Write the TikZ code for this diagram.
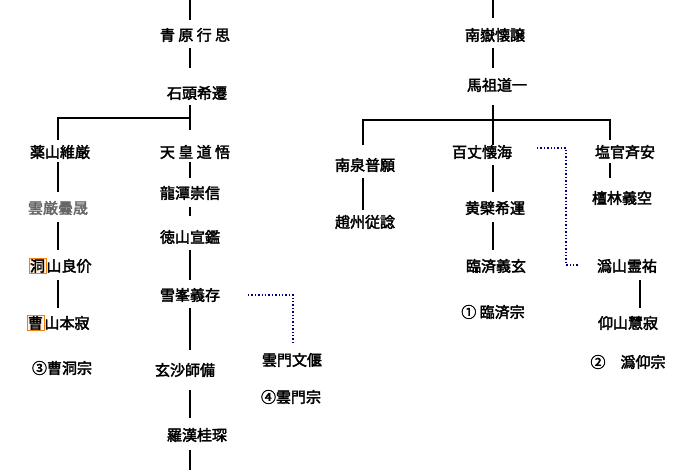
\documentclass[tikz,border=0pt]{standalone}
\usepackage{fontspec}
\setmainfont{Noto Sans CJK JP}[FakeBold=2.5]
\usetikzlibrary{calc, positioning}
\newcommand{\hlbox}[1]{{\setlength\fboxsep{0.5pt}\setlength\fboxrule{1pt}\fcolorbox{orange!80!brown}{orange!12}{#1}}}
\tikzset{
  monk/.style={font=\fontsize{15}{15}\selectfont, inner sep=1pt},
  line/.style={line width=1.8pt},
  link/.style={draw=blue!50!black, dotted, line width=1.4pt}
}
\begin{document}
\begin{tikzpicture}[x=1pt, y=-1pt]
	\useasboundingbox (0,0) rectangle (700,470);
	%Left lineage
	\node[monk] (qy) at (195,35) {青 原 行 思};
	\node[monk] (st) at (197,93) {石頭希遷};
	\node[monk] (ys) at (60,152) {薬山維厳};
	\node[monk] (th) at (195,152) {天 皇 道 悟};
	\node[monk, text=black!60] (yy) at (58,208) {雲厳曇晟};
	\node[monk] (dz) at (60,266) {\hlbox{洞}山良价};
	\node[monk] (cz) at (58,323) {\hlbox{曹}山本寂};
	\node[monk] (cd) at (62,368) {③曹洞宗};
	\node[monk] (lt) at (190,193) {龍潭崇信};
	\node[monk] (ds) at (190,237) {徳山宣鑑};
	\node[monk] (xf) at (190,295) {雪峯義存};
	\node[monk] (xs) at (185,370) {玄沙師備};
	\node[monk] (lh) at (197,435) {羅漢桂琛};
	\node[monk] (ym) at (292,360) {雲門文偃};
	\node[monk] (ymz) at (291,397) {④雲門宗};
	%Right lineage
	\node[monk] (ny) at (495,35) {南嶽懐譲};
	\node[monk] (mz) at (497,85) {馬祖道一};
	\node[monk] (nq) at (365,165) {南泉普願};
	\node[monk] (zz) at (365,222) {趙州従諗};
	\node[monk] (bz) at (482,152) {百丈懐海};
	\node[monk] (hb) at (495,208) {黄檗希運};
	\node[monk] (lj) at (496,266) {臨済義玄};
	\node[monk] (ljz) at (493,312) {①\ 臨済宗};
	\node[monk] (yg) at (625,152) {塩官斉安};
	\node[monk] (tl) at (622,198) {檀林義空};
	\node[monk] (gs) at (627,266) {潙山霊祐};
	\node[monk] (ys2) at (628,323) {仰山慧寂};
	\node[monk] (gyz) at (628,362) {②\quad 潙仰宗};
	\coordinate (ltop) at (190,0);
	\coordinate (lbot) at (190,470);
	\coordinate (rtop) at (493,0);

	%Left connectors
	\draw[line] (ltop) -- (190,20);
	\draw[line] (190,48) -- (190,68);
	\draw[line] (190,105) -- (190,130);
	\draw[line] (58,140) -- (58,118) -- (190,118);
	\draw[line] (58,162) -- (58,192);
	\draw[line] (58,222) -- (58,250);
	\draw[line] (58,280) -- (58,308);
	\draw[line] (190,162) -- (190,178);
	\draw[line] (190,207) -- (190,216);
	\draw[line] (190,250) -- (190,280);
	\draw[line] (190,308) -- (190,350);
	\draw[line] (190,390) -- (190,418);
	\draw[line] (190,450) -- (lbot);
	\draw[link] (248,295) -- (293,295) -- (293,342);
	%Right connectors
	\draw[line] (rtop) -- (493,18);
	\draw[line] (493,48) -- (493,68);
	\draw[line] (493,105) -- (493,145);
	\draw[line] (363,145) -- (363,120) -- (610,120) -- (610,140);
	\draw[line] (363,178) -- (363,210);
	\draw[line] (493,165) -- (493,192);
	\draw[line] (493,222) -- (493,250);
	\draw[line] (610,163) -- (610,178);
	\draw[line] (640,280) -- (640,308);
	\draw[link] (537,148) -- (566,148) -- (566,265) -- (578,265);
\end{tikzpicture}
\end{document}
